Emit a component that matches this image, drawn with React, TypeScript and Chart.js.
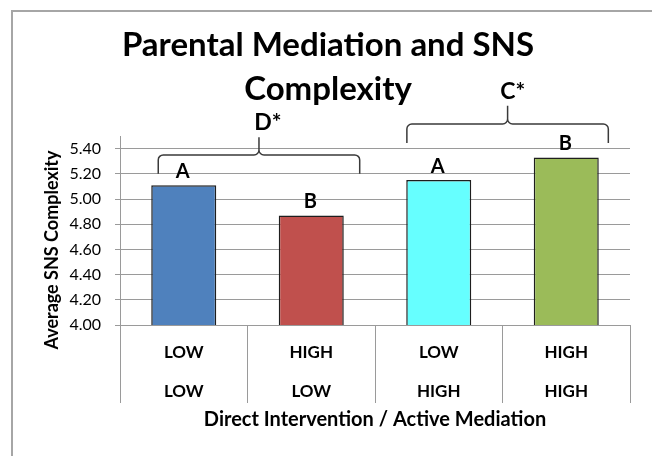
import React, { useEffect, useRef } from 'react';
import { Chart, registerables } from 'chart.js';

Chart.register(...registerables);

// ---- data ----
const titleLines = ['Parental Mediation and SNS', 'Complexity'];
const directIntervention = ['LOW', 'HIGH', 'LOW', 'HIGH'];
const activeMediation = ['LOW', 'LOW', 'HIGH', 'HIGH'];
const meanComplexity = [5.11, 4.87, 5.15, 5.33];
const barColors = ['#4f81bd', '#c0504d', '#66ffff', '#9bbb59'];
const barLetters = ['A', 'B', 'A', 'B'];
const yTickValues = [4.0, 4.2, 4.4, 4.6, 4.8, 5.0, 5.2, 5.4];
const yAxisTitle = 'Average SNS Complexity';
const xAxisTitle = 'Direct Intervention / Active Mediation';

// brace annotations (x in category units, y in value units)
const braceLabels = ['D*', 'C*'];
const braceFrom = [-0.2, 1.75];
const braceTo = [1.38, 3.33];
const braceTip = [5.2, 5.445];
const braceTop = [5.35, 5.595];
const bracePeak = [5.49, 5.74];
const braceLabelX = [0.66, 2.58];
const braceLabelY = [5.61, 5.85];

const gridColor = '#9a9a9a';

const framePlugin = {
  id: 'frame',
  beforeDraw(chart: any) {
    const { ctx, width, height } = chart;
    ctx.save();
    ctx.fillStyle = '#ffffff';
    ctx.fillRect(0, 0, width, height);
    ctx.strokeStyle = '#a6a6a6';
    ctx.lineWidth = 2;
    ctx.beginPath();
    ctx.moveTo(12, height);
    ctx.lineTo(12, 11);
    ctx.lineTo(width, 11);
    ctx.stroke();
    ctx.restore();
  },
};

const annotationPlugin = {
  id: 'annotations',
  afterDatasetsDraw(chart: any) {
    const { ctx, chartArea } = chart;
    const xs = chart.scales.x;
    const ys = chart.scales.y;
    ctx.save();
    // letters above bars
    const meta = chart.getDatasetMeta(0);
    ctx.fillStyle = '#000';
    ctx.font = 'bold 20px Lato';
    ctx.textAlign = 'center';
    ctx.textBaseline = 'middle';
    meta.data.forEach((bar: any, i: number) => {
      ctx.fillText(barLetters[i], bar.x - 1, bar.y - 14);
    });

    // braces
    const r = 5;
    ctx.strokeStyle = '#3a3a3a';
    ctx.lineWidth = 1.5;
    braceLabels.forEach((label, i) => {
      const x0 = xs.getPixelForValue(braceFrom[i]);
      const x1 = xs.getPixelForValue(braceTo[i]);
      const xc = (x0 + x1) / 2;
      const yb = ys.getPixelForValue(braceTip[i]);
      const yh = ys.getPixelForValue(braceTop[i]);
      const yp = ys.getPixelForValue(bracePeak[i]);
      ctx.beginPath();
      ctx.moveTo(x0, yb);
      ctx.lineTo(x0, yh + r);
      ctx.arcTo(x0, yh, x0 + r, yh, r);
      ctx.lineTo(xc - r, yh);
      ctx.arcTo(xc, yh, xc, yh - r, r);
      ctx.lineTo(xc, yp);
      ctx.moveTo(xc, yh - r);
      ctx.arcTo(xc, yh, xc + r, yh, r);
      ctx.lineTo(x1 - r, yh);
      ctx.arcTo(x1, yh, x1, yh + r, r);
      ctx.lineTo(x1, yb);
      ctx.stroke();
      ctx.font = 'bold 23px Lato';
      ctx.fillText(label, xs.getPixelForValue(braceLabelX[i]), ys.getPixelForValue(braceLabelY[i]));
    });

    // axis titles
    ctx.font = 'bold 20px Lato';
    ctx.fillText(xAxisTitle, (chartArea.left + chartArea.right) / 2, chartArea.bottom + 95);
    ctx.font = 'bold 18px Lato';
    ctx.translate(chartArea.left - 68, chartArea.bottom - 75);
    ctx.rotate(-Math.PI / 2);
    ctx.fillText(yAxisTitle, 0, 0);
    ctx.restore();
  },
};

export default function App() {
  const ref = useRef<HTMLCanvasElement | null>(null);

  useEffect(() => {
    if (!ref.current) return;
    const labels = directIntervention.map((d, i) => [d, activeMediation[i]]);
    const chart = new Chart(ref.current, {
      type: 'bar',
      data: {
        labels,
        datasets: [
          {
            data: meanComplexity,
            backgroundColor: barColors,
            borderColor: '#1e1e1e',
            borderWidth: 1.5,
            barPercentage: 0.51,
            categoryPercentage: 1,
          },
        ],
      },
      options: {
        responsive: false,
        animation: false,
        devicePixelRatio: 1,
        layout: { padding: { left: 26, right: 22, top: 0, bottom: 0 } },
        plugins: {
          legend: { display: false },
          tooltip: { enabled: false },
          title: {
            display: true,
            text: titleLines,
            color: '#000',
            font: { family: 'Lato', size: 33, weight: 'bold', lineHeight: 44 / 33 },
            padding: { top: 23, bottom: 25 },
          },
        },
        scales: {
          x: {
            type: 'category',
            grid: {
              offset: true,
              drawOnChartArea: false,
              drawTicks: true,
              tickLength: 78,
              color: gridColor,
              lineWidth: 1,
            },
            border: { display: true, color: gridColor },
            ticks: {
              padding: -70,
              color: '#000',
              maxRotation: 0,
              autoSkip: false,
              font: { family: 'Lato', size: 17, weight: 'bold', lineHeight: 39 / 17 },
            },
            afterFit: (s: any) => {
              s.height = 131;
            },
          },
          y: {
            min: 4,
            max: 5.5,
            afterBuildTicks: (s: any) => {
              s.ticks = yTickValues.map((v) => ({ value: v }));
            },
            grid: { color: gridColor, lineWidth: 1, drawTicks: true, tickLength: 5 },
            border: { display: true, color: gridColor },
            ticks: {
              padding: 14,
              color: '#000',
              font: { family: 'Lato', size: 16 },
              callback: (v: any) => Number(v).toFixed(2),
            },
            afterFit: (s: any) => {
              s.width = 94;
            },
          },
        },
      },
      plugins: [framePlugin, annotationPlugin],
    } as any);
    return () => chart.destroy();
  }, []);

  return (
    <div style={{ position: 'absolute', left: 0, top: 0, width: 652, height: 456 }}>
      <canvas ref={ref} width={652} height={456} style={{ display: 'block' }} />
    </div>
  );
}
